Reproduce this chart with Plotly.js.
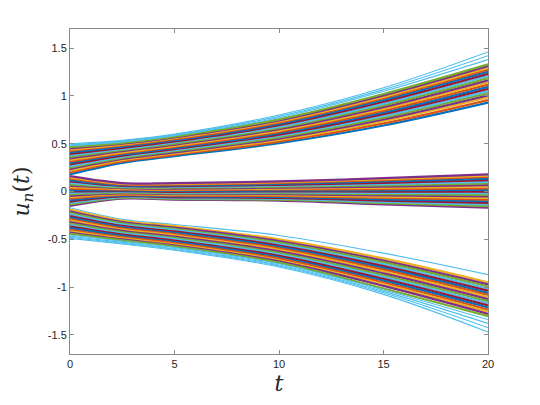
<!DOCTYPE html>
<html>
<head>
<meta charset="utf-8">
<script src="https://cdn.plot.ly/plotly-3.0.1.min.js"></script>
<style>
  html, body { margin: 0; padding: 0; background: #fff; }
  #chart { width: 540px; height: 405px; }
</style>
</head>
<body>
<div id="chart"></div>
<script>
// sample times the curves were read at
const t_points = [0, 2.5, 5, 10, 15, 20]

// upper band, bottom line first
const upper_at_0 = [0.180, 0.199, 0.218, 0.234, 0.250, 0.266, 0.282, 0.298, 0.314, 0.330, 0.346, 0.362, 0.378, 0.394, 0.410, 0.426, 0.439, 0.452, 0.465, 0.478, 0.489, 0.500]
const upper_at_2_5 = [0.300, 0.314, 0.328, 0.340, 0.352, 0.363, 0.375, 0.387, 0.399, 0.410, 0.422, 0.434, 0.446, 0.457, 0.469, 0.481, 0.490, 0.500, 0.509, 0.519, 0.527, 0.535]
const upper_at_5 = [0.370, 0.384, 0.398, 0.409, 0.421, 0.432, 0.444, 0.455, 0.467, 0.478, 0.490, 0.501, 0.513, 0.524, 0.536, 0.547, 0.557, 0.566, 0.575, 0.584, 0.592, 0.600]
const upper_at_10 = [0.505, 0.522, 0.539, 0.553, 0.567, 0.581, 0.595, 0.609, 0.623, 0.637, 0.651, 0.665, 0.679, 0.693, 0.707, 0.721, 0.733, 0.744, 0.755, 0.772, 0.786, 0.800]
const upper_at_15 = [0.690, 0.712, 0.735, 0.753, 0.772, 0.790, 0.809, 0.827, 0.846, 0.864, 0.883, 0.901, 0.920, 0.939, 0.957, 0.976, 0.990, 1.005, 1.020, 1.048, 1.066, 1.085]
const upper_at_20 = [0.930, 0.957, 0.984, 1.006, 1.029, 1.051, 1.074, 1.096, 1.119, 1.141, 1.164, 1.186, 1.209, 1.231, 1.254, 1.276, 1.294, 1.312, 1.330, 1.380, 1.420, 1.460]

// middle band, bottom line first
const middle_at_0 = [-0.150, -0.135, -0.120, -0.105, -0.090, -0.075, -0.060, -0.045, -0.030, -0.015, 0.000, 0.015, 0.030, 0.045, 0.060, 0.075, 0.090, 0.105, 0.120, 0.135, 0.148, 0.160]
const middle_at_2_5 = [-0.075, -0.067, -0.059, -0.051, -0.043, -0.036, -0.028, -0.020, -0.012, -0.004, 0.004, 0.012, 0.020, 0.028, 0.035, 0.043, 0.051, 0.059, 0.067, 0.075, 0.082, 0.088]
const middle_at_5 = [-0.085, -0.077, -0.069, -0.061, -0.052, -0.044, -0.036, -0.028, -0.019, -0.011, -0.003, 0.006, 0.014, 0.022, 0.030, 0.039, 0.047, 0.055, 0.064, 0.072, 0.080, 0.088]
const middle_at_10 = [-0.095, -0.085, -0.076, -0.066, -0.056, -0.047, -0.037, -0.027, -0.018, -0.008, 0.002, 0.011, 0.021, 0.031, 0.040, 0.050, 0.060, 0.070, 0.079, 0.089, 0.097, 0.105]
const middle_at_15 = [-0.135, -0.122, -0.108, -0.095, -0.082, -0.068, -0.055, -0.042, -0.029, -0.015, -0.002, 0.011, 0.025, 0.038, 0.051, 0.065, 0.078, 0.091, 0.105, 0.118, 0.129, 0.140]
const middle_at_20 = [-0.170, -0.153, -0.136, -0.119, -0.102, -0.085, -0.068, -0.051, -0.035, -0.018, -0.001, 0.016, 0.033, 0.050, 0.067, 0.084, 0.101, 0.118, 0.135, 0.152, 0.166, 0.180]

// lower band, top line first
const lower_at_0 = [-0.170, -0.189, -0.208, -0.224, -0.240, -0.256, -0.272, -0.288, -0.304, -0.320, -0.336, -0.352, -0.368, -0.384, -0.400, -0.416, -0.429, -0.442, -0.455, -0.468, -0.479, -0.490]
const lower_at_2_5 = [-0.290, -0.306, -0.321, -0.334, -0.347, -0.360, -0.373, -0.386, -0.399, -0.412, -0.425, -0.438, -0.451, -0.464, -0.477, -0.490, -0.501, -0.511, -0.521, -0.532, -0.541, -0.550]
const lower_at_5 = [-0.345, -0.362, -0.378, -0.391, -0.405, -0.418, -0.432, -0.445, -0.459, -0.472, -0.485, -0.499, -0.513, -0.526, -0.539, -0.553, -0.564, -0.575, -0.586, -0.597, -0.606, -0.615]
const lower_at_10 = [-0.460, -0.500, -0.518, -0.534, -0.549, -0.565, -0.580, -0.595, -0.611, -0.626, -0.642, -0.657, -0.673, -0.688, -0.703, -0.719, -0.731, -0.744, -0.756, -0.769, -0.779, -0.790]
const lower_at_15 = [-0.645, -0.700, -0.723, -0.742, -0.761, -0.780, -0.799, -0.818, -0.838, -0.857, -0.876, -0.895, -0.914, -0.933, -0.952, -0.971, -0.987, -1.015, -1.030, -1.045, -1.060, -1.076]
const lower_at_20 = [-0.870, -0.950, -0.972, -0.994, -1.016, -1.038, -1.060, -1.082, -1.104, -1.126, -1.148, -1.170, -1.192, -1.214, -1.236, -1.258, -1.280, -1.305, -1.340, -1.380, -1.425, -1.470]

const x_ticks = [0, 5, 10, 15, 20]
const y_ticks = [-1.5, -1, -0.5, 0, 0.5, 1, 1.5]
const y_tick_labels = ['-1.5', '-1', '-0.5', '0', '0.5', '1', '1.5']

// matlab default line colours
const colors = ['#0072BD', '#D95319', '#EDB120', '#7E2F8E', '#77AC30', '#4DBEEE', '#A2142F']
const CYAN = '#4DBEEE'

const band_traces = (columns, offset, cyan_lines) => {
    const traces = []
    for (let i = 0; i < columns[0].length; i++) {
        const is_cyan = cyan_lines.includes(i)
        traces.push({
            x: t_points,
            y: columns.map(c => c[i]),
            type: 'scatter',
            mode: 'lines',
            line: {
                color: is_cyan ? CYAN : colors[(i + offset) % colors.length],
                width: is_cyan ? 1.1 : 2.2,
                shape: 'spline',
                smoothing: 1
            },
            hoverinfo: 'skip'
        })
    }
    return traces
}

const traces = [
    ...band_traces([upper_at_0, upper_at_2_5, upper_at_5, upper_at_10, upper_at_15, upper_at_20], 0, [19, 20, 21]),
    ...band_traces([middle_at_0, middle_at_2_5, middle_at_5, middle_at_10, middle_at_15, middle_at_20], 3, []),
    ...band_traces([lower_at_0, lower_at_2_5, lower_at_5, lower_at_10, lower_at_15, lower_at_20], 1, [0, 18, 19, 20, 21])
]

const axis_style = {
    showgrid: false,
    zeroline: false,
    showline: true,
    mirror: 'ticks',
    linecolor: '#8a8a8a',
    linewidth: 1,
    ticks: 'inside',
    ticklen: 4,
    tickcolor: '#8a8a8a',
    tickfont: { family: 'Liberation Sans, Arial, sans-serif', size: 11, color: '#262626' }
}

const layout = {
    width: 540,
    height: 405,
    margin: { l: 70, r: 52, t: 29, b: 51 },
    paper_bgcolor: '#fff',
    plot_bgcolor: '#fff',
    showlegend: false,
    hovermode: false,
    xaxis: {
        ...axis_style,
        range: [0, 20],
        tickvals: x_ticks,
        ticktext: x_ticks.map(String),
        title: { text: '<i>t</i>', font: { family: 'DejaVu Serif, serif', size: 22, color: '#262626' }, standoff: 6 }
    },
    yaxis: {
        ...axis_style,
        range: [-1.7, 1.7],
        tickvals: y_ticks,
        ticktext: y_tick_labels,
        title: { text: '<i>u</i><sub><i>n</i></sub>(<i>t</i>)', font: { family: 'DejaVu Serif, serif', size: 22, color: '#262626' }, standoff: 12 }
    }
}

Plotly.newPlot('chart', traces, layout, { displayModeBar: false, staticPlot: true })
</script>
</body>
</html>
